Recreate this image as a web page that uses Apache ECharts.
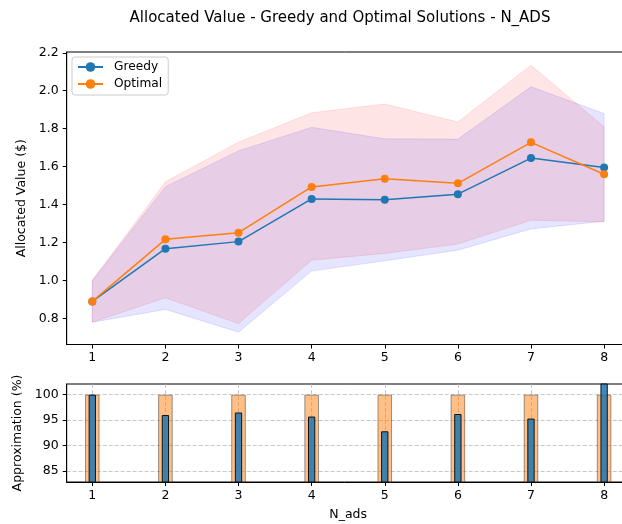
<!DOCTYPE html>
<html>
<head>
<meta charset="utf-8">
<script src="https://cdn.jsdelivr.net/npm/echarts@6/dist/echarts.min.js"></script>
<style>
  html, body { margin: 0; padding: 0; background: #fff; }
  #chart { width: 622px; height: 524px; }
</style>
</head>
<body>
<div id="chart"></div>
<script>
// Number of ads on the x axis
const nAds = [1, 2, 3, 4, 5, 6, 7, 8];

// Mean allocated value per solver
const greedyMean  = [0.89, 1.168, 1.205, 1.430, 1.425, 1.455, 1.645, 1.595];
const optimalMean = [0.89, 1.217, 1.252, 1.493, 1.536, 1.512, 1.728, 1.560];

// Spread bands (lower / upper) per solver
const greedyLow   = [0.780, 0.848, 0.728, 1.050, 1.104, 1.160, 1.272, 1.312];
const greedyHigh  = [1.000, 1.494, 1.683, 1.807, 1.747, 1.745, 2.021, 1.880];
const optimalLow  = [0.780, 0.909, 0.773, 1.107, 1.143, 1.192, 1.318, 1.309];
const optimalHigh = [1.000, 1.520, 1.729, 1.884, 1.930, 1.835, 2.134, 1.810];

// Approximation ratio (%) of greedy against optimal
const optimalPct = [100, 100, 100, 100, 100, 100, 100, 100];
const greedyPct  = [100, 96.0, 96.5, 95.7, 92.8, 96.2, 95.3, 102.3];

// Tick labels
const valueTicks  = [0.8, 1.0, 1.2, 1.4, 1.6, 1.8, 2.0, 2.2];
const approxTicks = [85, 90, 95, 100];

const FONT = 'DejaVu Sans';
const BLUE = '#1f77b4';
const ORANGE = '#ff7f0e';

const chart = echarts.init(document.getElementById('chart'), null, { renderer: 'canvas' });

function band(name, low, high, rgb, z) {
  return {
    type: 'custom',
    name: name,
    xAxisIndex: 0,
    yAxisIndex: 0,
    silent: true,
    z: z,
    data: nAds.map((x, i) => [x, low[i], high[i]]),
    encode: { x: 0, y: [1, 2] },
    renderItem: function (params, api) {
      if (params.dataIndex !== 0) return null;
      const upper = nAds.map((x, i) => api.coord([x, high[i]]));
      const lower = nAds.map((x, i) => api.coord([x, low[i]])).reverse();
      return {
        type: 'polygon',
        shape: { points: upper.concat(lower) },
        style: {
          fill: 'rgba(' + rgb + ',0.1)',
          stroke: 'rgba(' + rgb + ',0.1)',
          lineWidth: 1
        }
      };
    }
  };
}

const axisText = { fontFamily: FONT, fontSize: 12.5, color: '#000' };
const nameText = { fontFamily: FONT, fontSize: 12.5, color: '#000' };
const xRange = { min: 0.65, max: 8.35 };

const option = {
  backgroundColor: '#fff',
  animation: false,
  title: {
    text: 'Allocated Value - Greedy and Optimal Solutions - N_ADS',
    left: 335,
    textAlign: 'center',
    top: 6,
    textStyle: { fontFamily: FONT, fontSize: 15, fontWeight: 'normal', color: '#000' }
  },
  legend: {
    data: ['Greedy', 'Optimal'],
    orient: 'vertical',
    left: 72,
    top: 57,
    padding: [4, 6, 5, 5],
    itemGap: 5,
    itemWidth: 25,
    itemHeight: 12,
    backgroundColor: 'rgba(255,255,255,0.8)',
    borderColor: '#cccccc',
    borderWidth: 1,
    borderRadius: 3,
    textStyle: { fontFamily: FONT, fontSize: 12.2, color: '#000', padding: [0, 0, 0, 6] }
  },
  grid: [
    { left: 66.7, top: 52, width: 563, height: 292.5, show: true, borderColor: '#000', borderWidth: 1, outerBoundsMode: 'none' },
    { left: 66.7, top: 384, width: 563, height: 98, show: true, borderColor: '#000', borderWidth: 1, outerBoundsMode: 'none' }
  ],
  xAxis: [
    {
      type: 'value', gridIndex: 0, min: xRange.min, max: xRange.max,
      axisLine: { show: true, onZero: false, lineStyle: { color: '#000', width: 1 } },
      axisTick: { show: true, length: 4, customValues: nAds, lineStyle: { color: '#000' } },
      axisLabel: Object.assign({ margin: 7, customValues: nAds, formatter: v => String(v) }, axisText),
      splitLine: { show: false }
    },
    {
      type: 'value', gridIndex: 1, min: xRange.min, max: xRange.max,
      name: 'N_ads', nameLocation: 'middle', nameGap: 26,
      nameTextStyle: nameText,
      axisLine: { show: true, onZero: false, lineStyle: { color: '#000', width: 1 } },
      axisTick: { show: true, length: 4, customValues: nAds, lineStyle: { color: '#000' } },
      axisLabel: Object.assign({ margin: 7, customValues: nAds, formatter: v => String(v) }, axisText),
      splitLine: { show: true, lineStyle: { color: 'rgba(176,176,176,0.7)', type: [4, 2], width: 1 } }
    },
    {
      type: 'value', gridIndex: 1, min: xRange.min, max: xRange.max, show: false
    }
  ],
  yAxis: [
    {
      type: 'value', gridIndex: 0, min: 0.663, max: 2.204,
      name: 'Allocated Value ($)', nameLocation: 'middle', nameGap: 30, nameRotate: 90,
      nameTextStyle: nameText,
      axisLine: { show: true, onZero: false, lineStyle: { color: '#000', width: 1 } },
      axisTick: { show: true, length: 4, customValues: valueTicks, lineStyle: { color: '#000' } },
      axisLabel: Object.assign({ margin: 8, customValues: valueTicks, formatter: v => v.toFixed(1) }, axisText),
      splitLine: { show: false }
    },
    {
      type: 'value', gridIndex: 1, min: 82.83, max: 102.1,
      name: 'Approximation (%)', nameLocation: 'middle', nameGap: 38, nameRotate: 90,
      nameTextStyle: nameText,
      axisLine: { show: true, onZero: false, lineStyle: { color: '#000', width: 1 } },
      axisTick: { show: true, length: 4, customValues: approxTicks, lineStyle: { color: '#000' } },
      axisLabel: Object.assign({ margin: 8, customValues: approxTicks, formatter: v => String(v) }, axisText),
      splitLine: { show: true, lineStyle: { color: 'rgba(176,176,176,0.7)', type: [4, 2], width: 1 } }
    }
  ],
  series: [
    band('Greedy band', greedyLow, greedyHigh, '0,0,255', 1),
    band('Optimal band', optimalLow, optimalHigh, '255,0,0', 2),
    {
      type: 'line', name: 'Greedy', xAxisIndex: 0, yAxisIndex: 0, z: 3,
      data: nAds.map((x, i) => [x, greedyMean[i]]),
      symbol: 'circle', symbolSize: 8, color: BLUE,
      lineStyle: { width: 1.5, color: BLUE },
      itemStyle: { color: BLUE }
    },
    {
      type: 'line', name: 'Optimal', xAxisIndex: 0, yAxisIndex: 0, z: 4,
      data: nAds.map((x, i) => [x, optimalMean[i]]),
      symbol: 'circle', symbolSize: 8, color: ORANGE,
      lineStyle: { width: 1.5, color: ORANGE },
      itemStyle: { color: ORANGE }
    },
    {
      type: 'bar', name: 'Optimal %', xAxisIndex: 1, yAxisIndex: 1, z: 3,
      data: nAds.map((x, i) => [x, optimalPct[i]]),
      barWidth: 14.6,
      itemStyle: { color: 'rgba(255,127,14,0.5)', borderColor: 'rgba(40,40,40,0.45)', borderWidth: 1 }
    },
    {
      type: 'bar', name: 'Greedy %', xAxisIndex: 2, yAxisIndex: 1, z: 4,
      data: nAds.map((x, i) => [x, greedyPct[i]]),
      barWidth: 7.3,
      itemStyle: { color: 'rgba(31,119,180,0.85)', borderColor: '#111', borderWidth: 1 }
    }
  ]
};

chart.setOption(option);
</script>
</body>
</html>
